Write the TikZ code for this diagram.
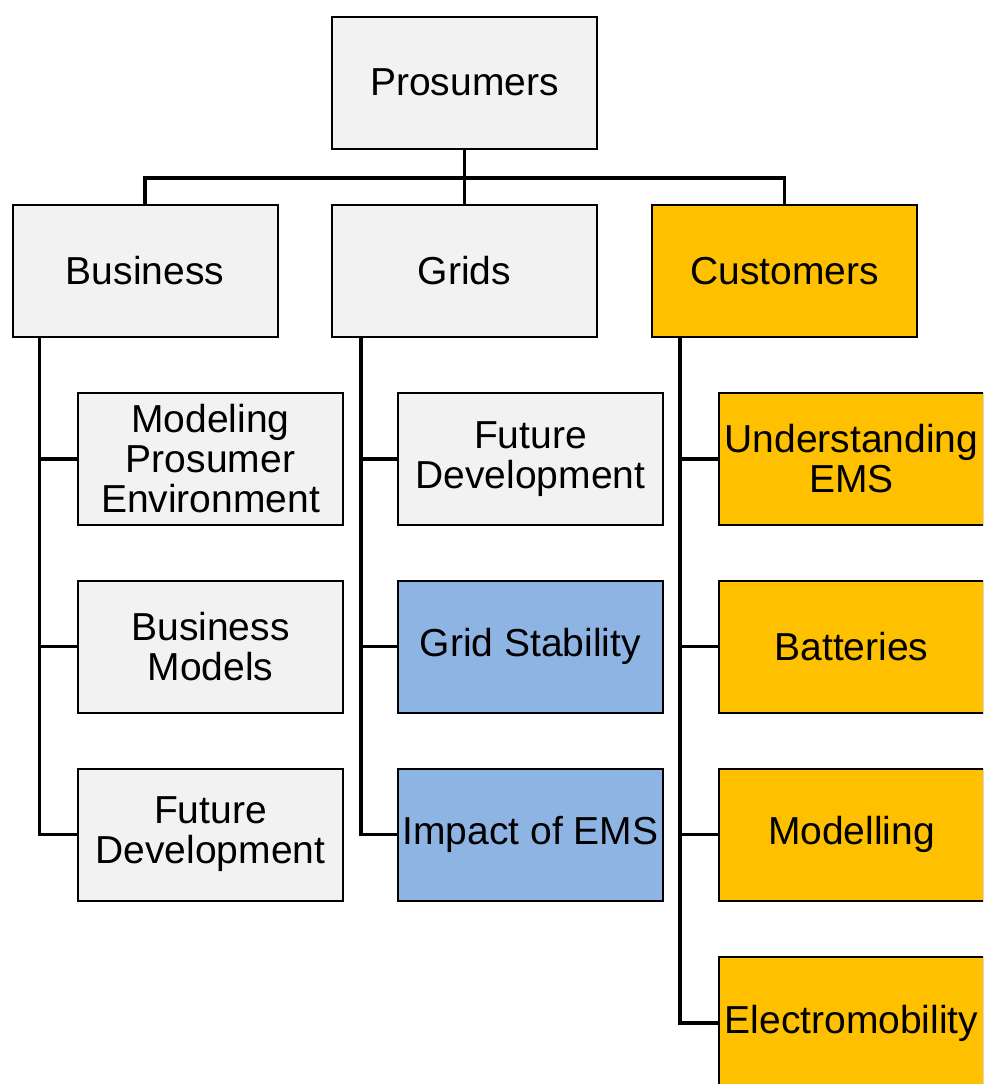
\documentclass[tikz,border=0pt]{standalone}
\usepackage{fontspec}
\setmainfont{Liberation Sans}
\usetikzlibrary{positioning}
\definecolor{boxgray}{HTML}{F2F2F2}
\definecolor{boxblue}{HTML}{8EB4E3}
\definecolor{boxorange}{HTML}{FFC000}
\tikzset
{
	topicnode/.style = {rectangle, draw=black, line width=2pt, align=center, minimum width=265pt, minimum height=132pt, inner sep=0pt, font=\fontsize{39}{40}\selectfont, fill=boxgray},
	bluenode/.style = {topicnode, fill=boxblue},
	orangenode/.style = {topicnode, fill=boxorange},
	branch/.style = {line width=3.3pt}
}

\begin{document}
\begin{tikzpicture}[x=1pt, y=-1pt]
\useasboundingbox (0,0) rectangle (983,1084);
\clip (0,0) rectangle (983,1084);

\node[topicnode] (prosumers) at (464.5,82.5) {Prosumers};
\node[topicnode] (business) at (145,271) {Business};
\node[topicnode] (grids) at (464.5,271) {Grids};
\node[orangenode] (customers) at (784.5,271) {Customers};

% business
\node[topicnode] (modeling) at (210.5,459) {Modeling\\Prosumer\\Environment};
\node[topicnode] (models) at (210.5,646.5) {Business\\Models};
\node[topicnode] (busfuture) at (210.5,834.5) {Future\\Development};

% grids
\node[topicnode] (gridfuture) at (530.5,459) {Future\\Development};
\node[bluenode] (stability) at (530.5,646.5) {Grid Stability};
\node[bluenode] (impact) at (530.5,834.5) {Impact of EMS};

% customers
\node[orangenode] (ems) at (851.5,459) {Understanding\\EMS};
\node[orangenode] (batteries) at (851.5,646.5) {Batteries};
\node[orangenode] (modelling) at (851.5,834.5) {Modelling};
\node[orangenode] (emobility) at (851.5,1023) {Electromobility};

\coordinate (bus) at (464.5,178);
\draw[branch] (prosumers.south) -- (grids.north);
\draw[branch] (business.north) |- (bus) -| (customers.north);

\draw[branch] ([xshift=28pt]business.south west) |- (modeling.west);
\draw[branch] ([xshift=28pt]business.south west) |- (models.west);
\draw[branch] ([xshift=28pt]business.south west) |- (busfuture.west);

\draw[branch] ([xshift=30pt]grids.south west) |- (gridfuture.west);
\draw[branch] ([xshift=30pt]grids.south west) |- (stability.west);
\draw[branch] ([xshift=30pt]grids.south west) |- (impact.west);

\draw[branch] ([xshift=29pt]customers.south west) |- (ems.west);
\draw[branch] ([xshift=29pt]customers.south west) |- (batteries.west);
\draw[branch] ([xshift=29pt]customers.south west) |- (modelling.west);
\draw[branch] ([xshift=29pt]customers.south west) |- (emobility.west);
\end{tikzpicture}
\end{document}
